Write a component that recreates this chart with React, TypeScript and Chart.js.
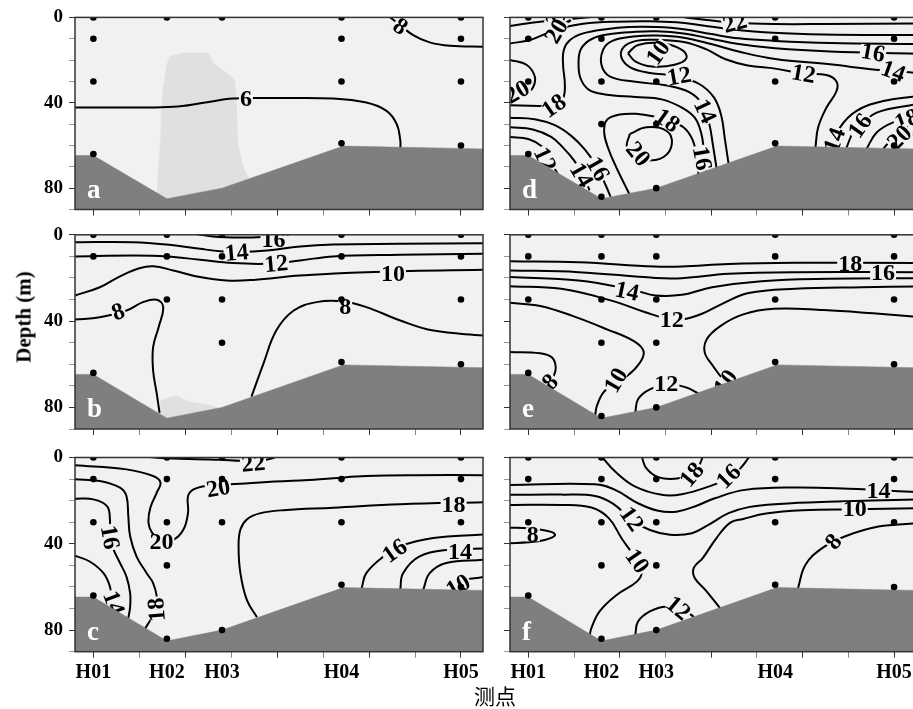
import React, { useEffect, useRef } from "react";
import { Chart, registerables } from "chart.js";
Chart.register(...registerables);

type Pt = [number, number];
type Lbl = [string, number, number, number];

// ---------------- data ----------------
const STATIONS = ["H01", "H02", "H03", "H04", "H05"];
const STATION_X = [0, 8, 14, 27, 40];
const DISTANCE_TICKS = [0, 5, 10, 15, 20, 25, 30, 35, 40];
const DEPTH_LABEL_TICKS = [0, 40, 80];
const X_MIN = -2;
const X_MAX = 42.4;
const DEPTH_MAX = 90;
const BATHY_X = [-2, 0, 8, 14, 27.2, 42.4];
const BATHY_DEPTH = [64.7, 64.7, 85, 80, 60.3, 61.6];

// sampling depths per station (H01..H05)
const DOTS_A = [[0, 10, 30, 64], [0], [0], [0, 10, 30, 59], [0, 10, 30, 60]];
const DOTS_B = [[0, 10, 64], [0, 10, 30], [0, 10, 30, 50], [0, 10, 30, 59], [0, 10, 30, 60]];
const DOTS_C = [[0, 10, 30, 64], [0, 10, 30, 50, 84], [0, 10, 30, 80], [0, 10, 30, 59], [0, 10, 30, 60]];
const DOTS_D = [[0, 10, 30, 64], [0, 10, 30, 50, 84], [0, 30, 50, 80], [0, 10, 30, 59], [0, 10, 30, 60]];
const DOTS_E = [[0, 10, 30, 64], [0, 10, 30, 50, 84], [0, 10, 30, 50, 80], [0, 10, 30, 59], [0, 10, 30, 60]];
const DOTS_F = [[0, 10, 30, 64], [0, 10, 30, 50, 84], [0, 10, 30, 50, 80], [0, 10, 30, 59], [0, 10, 30, 60]];

// ---- panel a ----
const A_PATCH: Pt[] = [[6.9, 88], [6.9, 83.9], [7.1, 70], [7.3, 57.6], [7.4, 43.7], [7.6, 33], [8, 22.1], [8.3, 18.3], [9.6, 16.7], [12.5, 16.7], [13.2, 22.1], [14.9, 27.5], [15.4, 29.9], [15.6, 43.7], [15.7, 59.2], [16.3, 70], [17, 76.1], [17.6, 80], [17.6, 88], [6.9, 88]];
const A_ISO_6: Pt[] = [[-2, 42.2], [4, 42.2], [8.7, 41.9], [12, 40], [15.2, 38], [20, 37.8], [26.1, 38], [29.7, 39.9], [31.9, 43.8], [33, 49.9], [33.4, 57.7], [33.4, 61.5]];
const A_ISO_8: Pt[] = [[32, -1], [33.2, 3], [34.8, 8.3], [36.6, 11.7], [38.8, 13.3], [42.4, 13.7]];
const A_LABELS: Lbl[] = [["6", 16.6, 38.2, 0], ["8", 33.4, 4.3, 35]];

// ---- panel b ----
const B_PATCH: Pt[] = [[7.2, 88], [7.2, 84], [7.3, 77], [8.3, 75.3], [9.2, 74.6], [9.8, 76.5], [11.1, 78], [12.5, 78.7], [13.5, 80], [13.5, 88], [7.2, 88]];
const B_ISO_16: Pt[] = [[11, -0.5], [13, 0.8], [16, 1.3], [18.5, 1.0], [20.5, 0.3], [22, -0.8]];
const B_ISO_14: Pt[] = [[-2, 3.4], [4.4, 3.4], [8, 4.5], [11.6, 6.5], [13.8, 7.6], [16, 8.0], [18.9, 7.3], [22.5, 5.4], [26.1, 4.5], [33.4, 4.2], [42.4, 3.9]];
const B_ISO_12: Pt[] = [[-2, 10], [4.4, 9.6], [8, 10], [11.6, 11.6], [15.2, 13.1], [18.9, 13.4], [22.5, 11.9], [26.1, 10], [33.4, 9.3], [42.4, 8.8]];
const B_ISO_10: Pt[] = [[-2, 28.1], [0.7, 24.3], [3, 19], [5, 15.5], [6.5, 14.6], [8.7, 16.5], [11.6, 19.6], [14.5, 21.2], [17.4, 20.9], [22.5, 18.9], [29.7, 17.3], [42.4, 16.2]];
const B_ISO_8A: Pt[] = [[-2, 39.3], [0.7, 38.2], [3.6, 35.1], [5.4, 31.2], [6.9, 30.1], [7.6, 33.5], [7.1, 42.8], [6.5, 52.1], [6.5, 62.9], [6.9, 73.7], [7.2, 82.5]];
const B_ISO_8B: Pt[] = [[17.2, 75], [18.5, 59.8], [19.9, 44.4], [21.8, 35.1], [24.3, 31.2], [27.2, 30.9], [29.7, 33.5], [33.4, 39.7], [37, 44.4], [42.4, 46.7]];
const B_LABELS: Lbl[] = [["16", 19.6, 2.3, 0], ["14", 15.6, 8.3, -5], ["12", 19.9, 13.5, -5], ["10", 32.6, 18, 0], ["8", 2.7, 35.8, -20], ["8", 27.4, 33.2, 0]];

// ---- panel c ----
const C_ISO_22: Pt[] = [[5.5, -0.5], [8, 0.4], [13.8, 1.0], [16, 1.5], [18.5, 1.3], [20, -0.3]];
const C_ISO_20: Pt[] = [[-2, 3.6], [3.6, 5.5], [6.5, 8.6], [7.3, 11.6], [6.9, 16.3], [6.2, 23.3], [6.0, 30.3], [6.4, 34.9], [7.3, 38.1], [8.7, 38.1], [9.8, 33.4], [10.3, 25.6], [10.3, 17.9], [10.9, 14.8], [12.3, 13.2], [16, 12.2], [18.9, 11.3], [22.5, 10.7], [26.1, 9.6], [29.7, 8.6], [35.2, 8.2], [42.4, 8.2]];
const C_ISO_18A: Pt[] = [[-2, 10.1], [0.7, 10.9], [2.9, 14], [3.6, 17.9], [3.8, 27.2], [4.0, 36.5], [4.7, 45.9], [5.8, 53.6], [6.5, 58.2], [6.9, 64.5], [6.9, 70.7], [6.2, 75.4], [5.6, 79.5]];
const C_ISO_16A: Pt[] = [[-2, 19.1], [0, 19.4], [1.5, 22.6], [1.8, 28.8], [1.8, 36.5], [2.2, 42.7], [2.9, 48.9], [3.6, 55.2], [4.0, 62.9], [4.0, 69.2], [3.8, 74.5]];
const C_ISO_14A: Pt[] = [[-2, 45.5], [-0.4, 48.2], [1.1, 53.6], [1.8, 59.8], [2.0, 66.0], [2.4, 72]];
const C_ISO_18B: Pt[] = [[17.8, 74], [16.7, 66], [16, 53.6], [15.8, 41.1], [16, 33.4], [16.7, 28.7], [18.1, 25.9], [20.7, 24.4], [26.1, 23.3], [33.4, 21.7], [42.4, 20.7]];
const C_ISO_16B: Pt[] = [[29.2, 60.5], [29.7, 53.6], [31.6, 45.8], [33.4, 41.1], [37, 37.3], [42.4, 35.7]];
const C_ISO_14B: Pt[] = [[33.4, 61], [33.7, 53.6], [35.5, 45.8], [38.8, 42.7], [42.4, 42.2]];
const C_ISO_12B: Pt[] = [[35.9, 61.2], [36.6, 53.6], [38.4, 48.9], [42.4, 47.4]];
const C_ISO_10B: Pt[] = [[38.8, 61.5], [39.9, 57.5], [42.4, 55.4]];
const C_LABELS: Lbl[] = [["22", 17.4, 2.8, -5], ["20", 7.4, 39.2, 0], ["20", 13.6, 14.3, -10], ["18", 6.9, 70.5, -95], ["16", 1.8, 37, 80], ["14", 2.2, 67.5, 70], ["18", 39.2, 21.8, 0], ["16", 32.8, 43.3, -35], ["14", 39.9, 43.8, 0], ["10", 39.7, 59.5, -30]];

// ---- panel d ----
const D_ISO_22A: Pt[] = [[-2, 4], [1.3, 2], [4.9, 0.6], [7.8, -0.5]];
const D_ISO_22B: Pt[] = [[16.2, -0.5], [19.5, 1.2], [22.6, 2.5], [26.8, 3.1], [32.3, 3.1], [42.4, 2.8]];
const D_ISO_20: Pt[] = [[-2, 12.2], [0.2, 10.6], [2, 7.5], [3.6, 5], [6, 3], [9.7, 2], [13.3, 1.8], [16.2, 2.3], [19.1, 3.8], [22.1, 5.5], [26.8, 7.2], [32.3, 8], [42.4, 8.3]];
const D_ISO_18: Pt[] = [[-2, 41.2], [1.1, 41.5], [2.9, 41.3], [3.8, 38], [4, 31.5], [3.8, 22], [3.9, 15], [4.6, 10.5], [6, 7.5], [8.5, 5.5], [11, 4.5], [14, 4.5], [17, 5.5], [20, 7.8], [23, 9.8], [27, 11], [33, 12], [42.4, 12.5]];
const D_ISO_16: Pt[] = [[19.5, 73], [19.2, 62], [18.9, 54], [18.2, 47], [16.8, 42.3], [14.6, 38.4], [11.7, 37.3], [8.4, 36.1], [6.6, 33.8], [5.7, 28.4], [5.5, 20.6], [5.8, 14.5], [7, 10], [9, 7.8], [11.5, 6.8], [14, 6.5], [17, 7.5], [20, 10], [23, 12.5], [27, 14.5], [33, 16], [42.4, 17]];
const D_ISO_14: Pt[] = [[20.6, 71], [20.2, 60], [19.8, 50], [19.1, 41], [17.6, 35], [15, 31.8], [11.7, 30.2], [8.9, 27.6], [8, 22.2], [8.2, 15], [9.2, 11], [11.5, 9], [14, 8.5], [17, 9.5], [20, 12.5], [23, 16], [27, 19.5], [33, 22], [38, 24.5], [42.4, 26]];
const D_ISO_12: Pt[] = [[21.9, 68.5], [21.5, 57], [21.1, 46], [20.3, 37.5], [18.7, 31.2], [16.2, 27.5], [13.3, 26], [11.2, 23.5], [10.2, 19], [10.4, 14], [11.8, 11], [14, 10.5], [17, 11.5], [19.5, 15], [21.5, 19.5], [24, 22.5], [27, 24], [30.1, 26.3], [32.6, 27], [33.7, 30], [33.7, 34.6], [32.6, 42.3], [31.7, 51.5], [31.4, 61]];
const D_ISO_10: Pt[] = [[10.9, 16.8], [11.7, 20.6], [13.5, 23], [16, 22.2], [17.3, 19.1], [16.8, 15.2], [14.6, 12.1], [12, 12.9], [10.9, 16.8]];
const D_ISO_20L: Pt[] = [[-2, 19.9], [-0.2, 22.2], [0.7, 27.6], [0.5, 33], [-0.4, 36.1], [-2, 36.9]];
const D_ISO_18W: Pt[] = [[11.2, 84], [10.5, 78], [9.6, 70], [8.8, 62], [8.3, 54], [8.6, 48], [10, 45.5], [12, 45.2], [13.5, 46.2], [15.1, 48.2], [17, 51.6], [18, 57.7], [18.4, 65.5], [18.6, 73.5]];
const D_ISO_20W: Pt[] = [[11.1, 54.6], [10.8, 60.8], [11.9, 65.4], [12.9, 67], [14.8, 65.4], [15.7, 59.3], [15.1, 53.1], [12.9, 51.5], [11.1, 54.6]];
const D_ISO_16L: Pt[] = [[-2, 47], [0.7, 47.7], [2.9, 50.5], [4.7, 55.5], [6.2, 62], [7.5, 70], [8.5, 79], [9, 84]];
const D_ISO_14L: Pt[] = [[-2, 51.5], [0.5, 52.5], [2.5, 56], [3.8, 61], [5, 67], [6, 74], [6.7, 81]];
const D_ISO_12L: Pt[] = [[-2, 56], [0, 57], [1.5, 60.5], [2.3, 65], [2.8, 70], [3.3, 74]];
const D_ISO_14R: Pt[] = [[33.2, 61], [34.1, 51.5], [35.9, 43.8], [38.8, 39.2], [42.4, 36.9]];
const D_ISO_16R: Pt[] = [[34.8, 61], [35.6, 53.1], [36.3, 50.8], [38.1, 44.6], [42.4, 40.7]];
const D_ISO_18R: Pt[] = [[37, 61.5], [38.1, 53.9], [39.9, 49.2], [42.4, 46.1]];
const D_ISO_20R: Pt[] = [[38.8, 61.6], [39.9, 56.9], [42.4, 53.9]];
const D_LABELS: Lbl[] = [["22", 3.3, 1.5, -30], ["20", 3.1, 6.5, -60], ["22", 22.6, 2.6, -15], ["20", -1.2, 35, -30], ["18", 2.8, 41.5, -35], ["10", 14.2, 16.5, -55], ["12", 16.5, 27.6, -10], ["12", 30.1, 26.5, 10], ["16", 37.7, 16.6, 10], ["14", 39.9, 25.3, 20], ["14", 19.3, 44, 65], ["16", 19, 66, 80], ["18", 15.2, 48.3, 35], ["20", 12, 64, 50], ["12", 1.8, 66.5, 65], ["14", 5.8, 74, 60], ["16", 7.6, 71, 60], ["14", 33.5, 57.5, -70], ["16", 36.3, 50.8, -55], ["18", 41.4, 48, -20], ["20", 40.6, 56.3, -45]];

// ---- panel e ----
const E_ISO_18: Pt[] = [[-2, 12.2], [5.5, 12.7], [13.8, 14.7], [16.8, 14.7], [21.9, 13.5], [29.2, 13], [42.4, 13.1]];
const E_ISO_16: Pt[] = [[-2, 16.5], [5.5, 17.3], [13.9, 20], [16.8, 20.1], [21.9, 18.1], [29.2, 17.3], [42.4, 17.3]];
const E_ISO_14: Pt[] = [[-2, 19.6], [5.5, 21.2], [11.7, 25.8], [13.9, 28.1], [16.8, 27.8], [20.1, 24.3], [25.5, 21.5], [32.8, 20.4], [42.4, 20.1]];
const E_ISO_12: Pt[] = [[-2, 23.8], [3.6, 25], [9.1, 30.5], [12.8, 35.9], [15.3, 39], [16.8, 39.3], [19, 36.6], [21.2, 32], [24.1, 27], [29.2, 25], [36.5, 24.3], [42.4, 24]];
const E_ISO_10A: Pt[] = [[-2, 31.5], [1.3, 33], [4.9, 37.7], [8.6, 43.8], [11.5, 49.2], [12.6, 53.9], [12.2, 59.3], [10.8, 65.4], [9.7, 67], [8.2, 73.1], [7.5, 79.3], [7.3, 84]];
const E_ISO_10B: Pt[] = [[22.1, 70], [21.3, 67], [20.2, 60.8], [19.3, 54.6], [19.5, 48.5], [21, 42.3], [23.5, 36.9], [26.8, 34.3], [32.3, 34.9], [37.7, 36.4], [42.4, 38]];
const E_ISO_12S: Pt[] = [[11.7, 82.5], [12, 76.2], [13.3, 71.6], [15.5, 69.3], [17.3, 70.8], [18.6, 73.5]];
const E_ISO_8: Pt[] = [[-2, 54.3], [1.3, 54.9], [2.6, 56.9], [3, 61.6], [2.7, 66.2], [2.2, 70.5]];
const E_LABELS: Lbl[] = [["18", 35.2, 13.4, 0], ["16", 38.8, 17.6, 0], ["14", 10.8, 26.3, 12], ["12", 15.7, 39.5, 0], ["10", 9.6, 67.5, -60], ["10", 21.6, 68.3, -55], ["12", 15.1, 69, 0], ["8", 2.4, 68.3, -45]];

// ---- panel f ----
const F_ISO_18: Pt[] = [[12.4, -0.5], [12.9, 4.9], [14.2, 9.1], [16, 9.9], [17.5, 8.3], [18.6, 4.2], [19.1, -0.5]];
const F_ISO_16: Pt[] = [[8, -0.5], [9.5, 6.5], [11.7, 13.5], [14.6, 17.3], [16.8, 17], [19.7, 13.5], [21.9, 9.6], [23.2, 5], [24.2, -0.5]];
const F_ISO_14: Pt[] = [[-2, 12.7], [7.3, 12.4], [9.5, 15], [12, 21.2], [14.2, 24.7], [16.2, 25.1], [18.2, 22.7], [20.4, 18.9], [23.7, 15], [29.2, 13.9], [35, 14.5], [42.4, 16]];
const F_ISO_12: Pt[] = [[-2, 17.3], [3.6, 17.2], [7.3, 17.8], [9.3, 21.5], [11.3, 28.9], [13.3, 33.6], [15.5, 35.8], [17.9, 35.1], [19.7, 31.2], [21.9, 25.8], [24.1, 23], [27.4, 21.5], [32.8, 20.5], [42.4, 19.5]];
const F_ISO_10A: Pt[] = [[-2, 22], [3.6, 22], [6.9, 23.2], [8.8, 28.1], [10.2, 37.4], [11.7, 46.7], [12.4, 52.9], [11.9, 57.4], [9.7, 63.6], [7.8, 71.3], [6.9, 79.1], [6.7, 83]];
const F_ISO_10B: Pt[] = [[42.4, 23.5], [35.7, 24], [30, 24.5], [26, 26], [23.5, 28.5], [22.1, 30.2], [20.6, 37.2], [19.1, 46.5], [18.1, 51.2], [18.2, 55.8], [19.5, 62], [21, 70]];
const F_ISO_12S: Pt[] = [[11.7, 82.2], [12, 76], [13.3, 71.3], [15.1, 69], [16.9, 70.5], [18.1, 73.8]];
const F_ISO_8A: Pt[] = [[-2, 32.5], [0, 32.8], [2.6, 34.6], [2.9, 36.2], [1.8, 38.2], [0, 39.3], [-2, 39.7]];
const F_ISO_8B: Pt[] = [[29.5, 60.5], [30.3, 49.8], [32.1, 42.1], [34.6, 36.6], [38.3, 32], [42.4, 30.5]];
const F_LABELS: Lbl[] = [["18", 17.9, 8, -50], ["16", 21.9, 8.8, -45], ["14", 38.3, 15.5, 0], ["12", 11.3, 28.5, 55], ["10", 35.7, 24, 0], ["10", 11.9, 48, 55], ["12", 16.4, 69.8, 40], ["8", 0.5, 35.6, 0], ["8", 33.4, 39, -50]];

// ---------------- layout / style ----------------
const CW = 940;
const CH = 709;
const BG = "#f1f1f1";
const BATHY_COLOR = "#7f7f7f";
const PATCH_COLOR = "#e0e0e0";
const SERIF = '"Liberation Serif", "Times New Roman", serif';
const COLS = [{ left: 75, right: 483, yW: 60 }, { left: 510, right: 916, yW: 10 }];
const ROWS = [{ top: 15.5, bottom: 209.5 }, { top: 234.8, bottom: 429 }, { top: 457.5, bottom: 651.7 }];

const PANELS = [
  { letter: "a", col: 0, row: 0, dots: DOTS_A, patches: [A_PATCH], lines: [A_ISO_6, A_ISO_8], labels: A_LABELS },
  { letter: "b", col: 0, row: 1, dots: DOTS_B, patches: [B_PATCH], lines: [B_ISO_16, B_ISO_14, B_ISO_12, B_ISO_10, B_ISO_8A, B_ISO_8B], labels: B_LABELS },
  { letter: "c", col: 0, row: 2, dots: DOTS_C, patches: [], lines: [C_ISO_22, C_ISO_20, C_ISO_18A, C_ISO_16A, C_ISO_14A, C_ISO_18B, C_ISO_16B, C_ISO_14B, C_ISO_12B, C_ISO_10B], labels: C_LABELS },
  { letter: "d", col: 1, row: 0, dots: DOTS_D, patches: [], lines: [D_ISO_22A, D_ISO_22B, D_ISO_20, D_ISO_18, D_ISO_16, D_ISO_14, D_ISO_12, D_ISO_10, D_ISO_20L, D_ISO_18W, D_ISO_20W, D_ISO_16L, D_ISO_14L, D_ISO_12L, D_ISO_14R, D_ISO_16R, D_ISO_18R, D_ISO_20R], labels: D_LABELS },
  { letter: "e", col: 1, row: 1, dots: DOTS_E, patches: [], lines: [E_ISO_18, E_ISO_16, E_ISO_14, E_ISO_12, E_ISO_10A, E_ISO_10B, E_ISO_12S, E_ISO_8], labels: E_LABELS },
  { letter: "f", col: 1, row: 2, dots: DOTS_F, patches: [], lines: [F_ISO_18, F_ISO_16, F_ISO_14, F_ISO_12, F_ISO_10A, F_ISO_10B, F_ISO_12S, F_ISO_8A, F_ISO_8B], labels: F_LABELS },
];

const X_TICKS = Array.from(new Set([...DISTANCE_TICKS, ...STATION_X])).sort((a, b) => a - b);
const toXY = (pts: Pt[]) => pts.map(([x, y]) => ({ x, y }));

const panelPlugin = {
  id: "panelDecor",
  beforeDraw(chart: any) {
    const { ctx, chartArea: a } = chart;
    ctx.save();
    ctx.fillStyle = BG;
    ctx.fillRect(a.left, a.top, a.right - a.left, a.bottom - a.top);
    ctx.restore();
  },
  afterDatasetDraw(chart: any, args: any) {
    const ds = chart.data.datasets[args.index];
    if (!ds || !ds.isLabelLayer) return;
    const { ctx, chartArea: a } = chart;
    const xs = chart.scales.x;
    const ys = chart.scales.y;
    ctx.save();
    ctx.beginPath();
    ctx.rect(a.left, a.top, a.right - a.left, a.bottom - a.top);
    ctx.clip();
    ctx.font = "bold 24px " + SERIF;
    ctx.textAlign = "center";
    ctx.textBaseline = "middle";
    for (const [t, x, d, ang] of ds.contourLabels as Lbl[]) {
      const px = xs.getPixelForValue(x);
      const py = ys.getPixelForValue(d);
      ctx.save();
      ctx.translate(px, py);
      ctx.rotate((ang * Math.PI) / 180);
      const w = ctx.measureText(t).width;
      ctx.fillStyle = BG;
      ctx.fillRect(-w / 2 - 1, -7, w + 2, 14);
      ctx.fillStyle = "#000";
      ctx.fillText(t, 0, 1);
      ctx.restore();
    }
    ctx.restore();
  },
  afterDraw(chart: any) {
    const { ctx, chartArea: a } = chart;
    const letter = chart.options.plugins.panelDecor.letter;
    ctx.save();
    ctx.strokeStyle = "#333";
    ctx.lineWidth = 1.5;
    ctx.strokeRect(a.left, a.top, a.right - a.left, a.bottom - a.top);
    ctx.fillStyle = "#fff";
    ctx.font = "bold 27px " + SERIF;
    ctx.textAlign = "left";
    ctx.textBaseline = "alphabetic";
    ctx.fillText(letter, a.left + 12, a.bottom - 12);
    ctx.restore();
  },
};

function buildConfig(p: any) {
  const col = COLS[p.col];
  const row = ROWS[p.row];
  const showX = p.row === 2;
  const showY = p.col === 0;
  const xH = showX ? 40 : 10;
  const datasets: any[] = [];
  for (const patch of p.patches) {
    datasets.push({ data: toXY(patch), showLine: true, tension: 0, fill: "shape", backgroundColor: PATCH_COLOR, borderColor: PATCH_COLOR, borderWidth: 0.5, pointRadius: 0, order: 5, clip: 0 });
  }
  for (const line of p.lines) {
    datasets.push({ data: toXY(line), showLine: true, tension: 0.4, fill: false, borderColor: "#000", borderWidth: 2, pointRadius: 0, order: 4, clip: 0 });
  }
  datasets.push({ data: [], isLabelLayer: true, contourLabels: p.labels, showLine: false, pointRadius: 0, order: 3 });
  datasets.push({
    data: BATHY_X.map((x, i) => ({ x, y: BATHY_DEPTH[i] })),
    showLine: true, tension: 0, fill: { value: DEPTH_MAX }, backgroundColor: BATHY_COLOR, borderColor: BATHY_COLOR,
    borderWidth: 0.5, pointRadius: 0, order: 2, clip: 0,
  });
  const dots: any[] = [];
  p.dots.forEach((depths: number[], i: number) => depths.forEach((d) => dots.push({ x: STATION_X[i], y: d })));
  datasets.push({ data: dots, showLine: false, pointRadius: 3.3, pointBackgroundColor: "#000", pointBorderWidth: 0, order: 1, clip: 0 });

  return {
    type: "scatter",
    data: { datasets },
    plugins: [panelPlugin],
    options: {
      animation: false,
      responsive: false,
      maintainAspectRatio: false,
      events: [],
      layout: { padding: { left: col.left - col.yW, right: CW - col.right, top: row.top, bottom: CH - row.bottom - xH } },
      elements: { line: { capBezierPoints: false } },
      plugins: { legend: { display: false }, tooltip: { enabled: false }, panelDecor: { letter: p.letter } },
      scales: {
        x: {
          type: "linear", position: "bottom", min: X_MIN, max: X_MAX,
          afterFit: (s: any) => { s.height = xH; },
          afterBuildTicks: (s: any) => { s.ticks = X_TICKS.map((v) => ({ value: v })); },
          border: { display: false },
          grid: {
            drawOnChartArea: false, drawTicks: true, tickLength: 6,
            tickColor: (c: any) => {
              const v = c.tick ? c.tick.value : 0;
              if (v % 5 !== 0) return "rgba(0,0,0,0)";
              return v % 10 === 0 ? "#333" : "#888";
            },
          },
          ticks: {
            autoSkip: false, maxRotation: 0, minRotation: 0, padding: 3, color: "#000",
            font: { family: SERIF, weight: "bold", size: 20 },
            callback: (v: number) => { const i = STATION_X.indexOf(v); return showX && i >= 0 ? STATIONS[i] : ""; },
          },
        },
        y: {
          type: "linear", position: "left", reverse: true, min: 0, max: DEPTH_MAX,
          afterFit: (s: any) => { s.width = col.yW; },
          border: { display: false },
          grid: {
            drawOnChartArea: false, drawTicks: true, tickLength: 6,
            tickColor: (c: any) => { const v = c.tick ? c.tick.value : 0; return DEPTH_LABEL_TICKS.includes(v) ? "#333" : "#999"; },
          },
          ticks: {
            stepSize: 10, autoSkip: false, padding: 6, color: "#000",
            font: { family: SERIF, weight: "bold", size: 19 },
            callback: (v: number) => (showY && DEPTH_LABEL_TICKS.includes(v) ? String(v) : ""),
          },
        },
      },
    },
  };
}

function Panel({ spec }: { spec: any }) {
  const ref = useRef<HTMLCanvasElement | null>(null);
  useEffect(() => {
    if (!ref.current) return;
    const chart = new Chart(ref.current, buildConfig(spec) as any);
    return () => chart.destroy();
  }, [spec]);
  return <canvas ref={ref} width={CW} height={CH} style={{ position: "absolute", left: 0, top: 0, width: CW, height: CH }} />;
}

export default function App() {
  return (
    <div style={{ position: "fixed", left: 0, top: 0, width: 913, height: 709, overflow: "hidden", background: "#fff" }}>
      {PANELS.map((p) => (
        <Panel key={p.letter} spec={p} />
      ))}
      <div
        style={{
          position: "absolute", left: 24, top: 317, transform: "translate(-50%, -50%) rotate(-90deg)",
          whiteSpace: "nowrap", font: "bold 21px " + SERIF, color: "#000",
        }}
      >
        Depth (m)
      </div>
      <div
        style={{
          position: "absolute", left: 495, top: 695, transform: "translate(-50%, -50%)",
          whiteSpace: "nowrap", font: '21px "Noto Sans CJK SC", sans-serif', color: "#000",
        }}
      >
        测点
      </div>
    </div>
  );
}
